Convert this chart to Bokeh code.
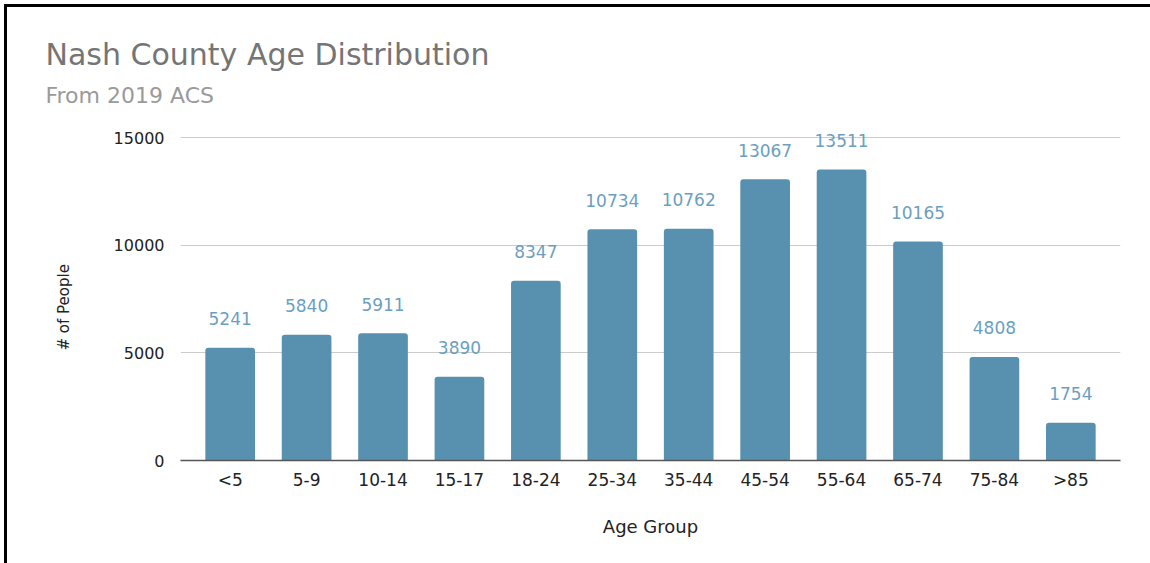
from bokeh.plotting import figure
from bokeh.models import FactorRange, Range1d, FixedTicker, Title, ColumnDataSource
from bokeh.core.properties import value
from bokeh.embed import file_html
from bokeh.resources import INLINE

categories = ["<5", "5-9", "10-14", "15-17", "18-24", "25-34", "35-44",
              "45-54", "55-64", "65-74", "75-84", ">85"]
people = [5241, 5840, 5911, 3890, 8347, 10734, 10762, 13067, 13511, 10165, 4808, 1754]
y_ticks = [0, 5000, 10000, 15000]
title_text = "Nash County Age Distribution"
subtitle_text = "From 2019 ACS"
x_label = "Age Group"
y_label = "# of People"

W, H = 1150, 563
FONT = "DejaVu Sans"

src = ColumnDataSource(dict(cat=categories, n=people, lbl=[str(v) for v in people]))

p = figure(width=W, height=H,
           x_range=FactorRange(factors=categories, range_padding=0.15, range_padding_units="absolute"),
           y_range=Range1d(0, 16022),
           output_backend="svg", toolbar_location=None,
           min_border_left=180, min_border_right=30, min_border_top=115, min_border_bottom=103)
p.outline_line_color = None
p.background_fill_color = "white"
p.border_fill_alpha = 0
p.styles = {"box-shadow": "inset 4px 4px 0 0 white, inset 7px 7px 0 0 black",
            "background-color": "white"}

p.vbar(x="cat", top="n", width=0.65, source=src, fill_color="#5891af", line_color=None,
       border_radius=(3, 3, 0, 0))
p.text(x="cat", y="n", text="lbl", source=src, text_align="center", text_baseline="alphabetic",
       y_offset=-29, text_font=value(FONT), text_font_size=value("17px"), text_color="#6b9fbf")

# grid
p.xgrid.grid_line_color = None
p.ygrid.ticker = FixedTicker(ticks=y_ticks)
p.ygrid.grid_line_color = "#cccccc"
p.ygrid.grid_line_width = 1

# y axis
p.yaxis.ticker = FixedTicker(ticks=y_ticks)
p.yaxis.axis_line_color = None
p.yaxis.major_tick_line_color = None
p.yaxis.minor_tick_line_color = None
p.yaxis.major_tick_out = 0
p.yaxis.major_tick_in = 0
p.yaxis.major_label_standoff = 16
p.yaxis.major_label_text_font = FONT
p.yaxis.major_label_text_font_size = "16px"
p.yaxis.major_label_text_color = "#222222"

# x axis
p.xaxis.axis_line_color = "#555555"
p.xaxis.axis_line_width = 1.5
p.xaxis.major_tick_line_color = None
p.xaxis.minor_tick_line_color = None
p.xaxis.major_tick_out = 0
p.xaxis.major_tick_in = 0
p.xaxis.major_label_standoff = 9
p.xaxis.major_label_text_font = FONT
p.xaxis.major_label_text_font_size = "17px"
p.xaxis.major_label_text_color = "#222222"
p.xaxis.axis_label = x_label
p.xaxis.axis_label_standoff = 23
p.xaxis.axis_label_text_font = FONT
p.xaxis.axis_label_text_font_size = "18px"
p.xaxis.axis_label_text_font_style = "normal"
p.xaxis.axis_label_text_color = "#222222"

# title, subtitle, y label
p.title = Title(text=title_text, align="left", offset=-135, standoff=4,
                text_font=FONT, text_font_size="30px", text_color="#757575",
                text_font_style="normal")
p.add_layout(Title(text=subtitle_text, align="left", offset=-135, standoff=15,
                   text_font=FONT, text_font_size="22px", text_color="#9a9a9a",
                   text_font_style="normal"), "above")
p.add_layout(Title(text=y_label, align="left", offset=110, standoff=76,
                   text_font=FONT, text_font_size="15px", text_color="#222222",
                   text_font_style="normal"), "left")

open("out.html", "w").write(file_html(p, INLINE))
